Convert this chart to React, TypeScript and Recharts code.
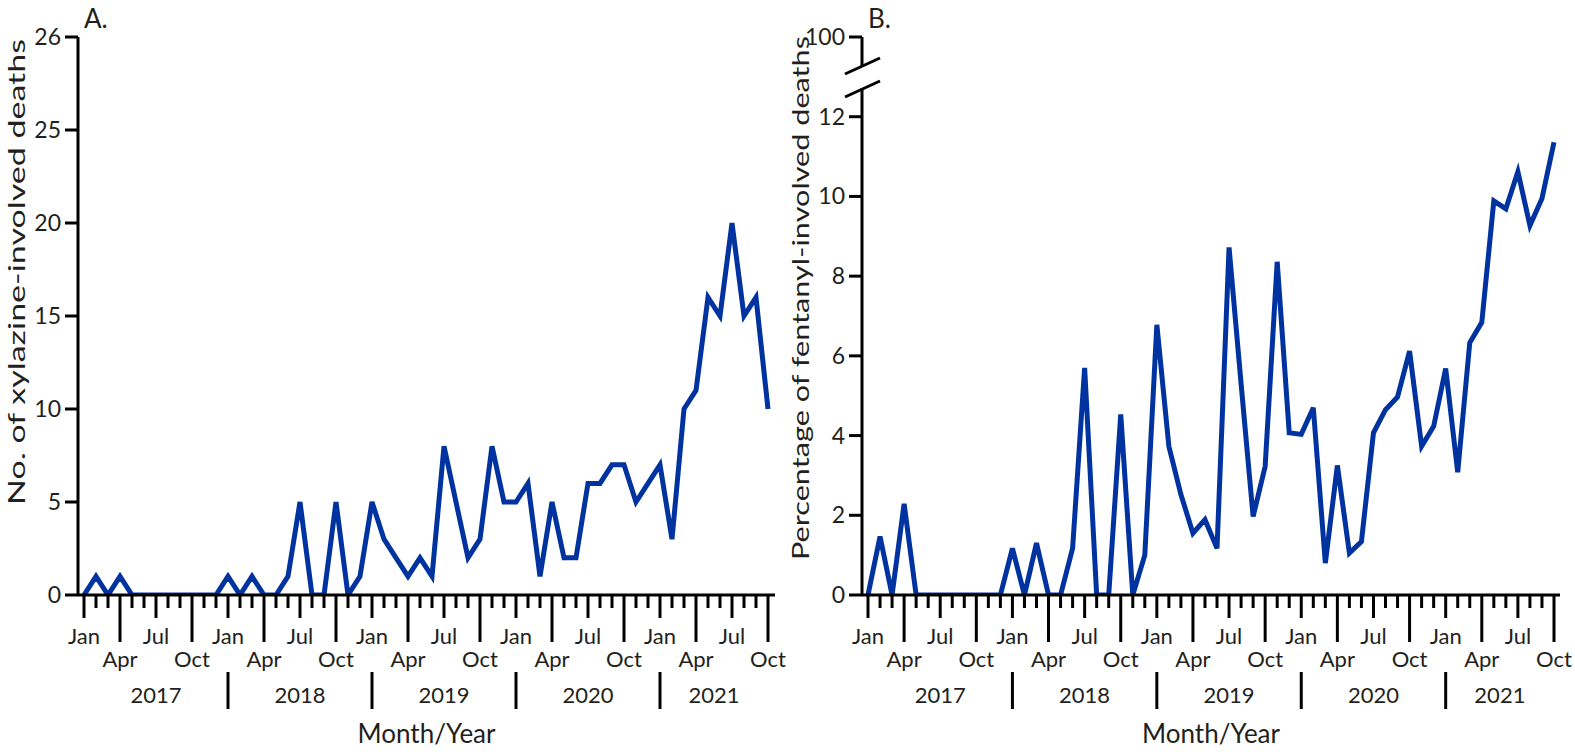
import { LineChart, Line, XAxis, YAxis, Label } from 'recharts';

const monthNames = ['Jan', 'Feb', 'Mar', 'Apr', 'May', 'Jun', 'Jul', 'Aug', 'Sep', 'Oct', 'Nov', 'Dec'];
const years = ['2017', '2018', '2019', '2020', '2021'];

// A. monthly count of xylazine-involved deaths, Jan 2017 - Oct 2021
const xylazineDeaths = [
  0, 1, 0, 1, 0, 0, 0, 0, 0, 0, 0, 0,
  1, 0, 1, 0, 0, 1, 5, 0, 0, 5, 0, 1,
  5, 3, 2, 1, 2, 1, 8, 5, 2, 3, 8, 5,
  5, 6, 1, 5, 2, 2, 6, 6, 7, 7, 5, 6,
  7, 3, 10, 11, 16, 15, 20, 15, 16, 10,
];

// B. percentage of fentanyl-involved deaths that involved xylazine
const fentanylPct = [
  0, 1.47, 0, 2.29, 0, 0, 0, 0, 0, 0, 0, 0,
  1.17, 0, 1.3, 0, 0, 1.17, 5.7, 0, 0, 4.53, 0, 1.0,
  6.78, 3.73, 2.52, 1.55, 1.89, 1.17, 8.72, 5.3, 1.97, 3.23, 8.36, 4.07,
  4.03, 4.7, 0.8, 3.25, 1.05, 1.34, 4.07, 4.65, 4.97, 6.12, 3.73, 4.23,
  5.68, 3.08, 6.33, 6.84, 9.89, 9.69, 10.62, 9.27, 9.95, 11.36,
];

const countTicks = [0, 5, 10, 15, 20, 25, 30];
const countTickLabels = ['0', '5', '10', '15', '20', '25', '26'];
const pctTicks = [0, 2, 4, 6, 8, 10, 12, 14];
const pctTickLabels = ['0', '2', '4', '6', '8', '10', '12', '100'];

const months = years.flatMap((y) => monthNames.map((m) => `${m} ${y}`)).slice(0, xylazineDeaths.length);
const data = months.map((month, i) => ({ month, count: xylazineDeaths[i], pct: fentanylPct[i] }));

const FONT = 'Lato, "Liberation Sans", sans-serif';
const INK = '#231f20';
const BLUE = '#0033a0';

function MonthTick(props: any) {
  const { x, y, index } = props;
  const m = index % 12;
  const yr = Math.floor(index / 12);
  const len = m === 3 || m === 9 ? 47 : m === 0 || m === 6 ? 23 : 13;
  const txt = { fontFamily: FONT, fontSize: 22, fill: INK, textAnchor: 'middle' as const };
  return (
    <g>
      <line x1={x} x2={x} y1={y} y2={y + len} stroke="#000" strokeWidth={3} />
      {(m === 0 || m === 6) && <text x={x} y={y + 49} {...txt}>{monthNames[m]}</text>}
      {(m === 3 || m === 9) && <text x={x} y={y + 72} {...txt}>{monthNames[m]}</text>}
      {m === 0 && index > 0 && (
        <line x1={x} x2={x} y1={y + 77} y2={y + 114} stroke="#000" strokeWidth={3} />
      )}
      {m === 6 && (
        <text x={x + (yr === years.length - 1 ? -18 : 0)} y={y + 108} {...txt}>{years[yr]}</text>
      )}
    </g>
  );
}

function ValueTick(props: any) {
  const { x, y, index, labels } = props;
  return (
    <text x={x} y={y + 8} textAnchor="end" fontFamily={FONT} fontSize={23} fill={INK}>
      {labels[index]}
    </text>
  );
}

function xTitle(props: any) {
  const vb = props.viewBox;
  return (
    <text x={vb.x + vb.width / 2} y={vb.y + vb.height - 2} textAnchor="middle" fontFamily={FONT} fontSize={26} fill={INK}>
      Month/Year
    </text>
  );
}

function makeYTitle(title: string, panel: string, dx: number, cy: number, len: number, brk: boolean) {
  return function YTitle(props: any) {
    const vb = props.viewBox;
    const ax = vb.x + vb.width;
    return (
      <g>
        <text
          transform={`translate(${vb.x + dx},${cy}) rotate(-90)`}
          textAnchor="middle"
          fontFamily={FONT}
          fontSize={24}
          fill={INK}
          textLength={len}
          lengthAdjust="spacingAndGlyphs"
        >
          {title}
        </text>
        <text x={ax + 6} y={28} fontFamily={FONT} fontSize={26} fill={INK}>{panel}</text>
        {brk && (
          <g>
            <rect x={ax - 3} y={66} width={6} height={22} fill="#fff" />
            <line x1={ax - 17} y1={74} x2={ax + 18} y2={58} stroke="#000" strokeWidth={3} />
            <line x1={ax - 17} y1={97} x2={ax + 18} y2={81} stroke="#000" strokeWidth={3} />
          </g>
        )}
      </g>
    );
  };
}

function Panel(props: {
  width: number;
  axisWidth: number;
  dataKey: string;
  domainMax: number;
  ticks: number[];
  tickLabels: string[];
  title: string;
  panel: string;
  titleX: number;
  titleY: number;
  titleLen: number;
  brk: boolean;
  padRight: number;
}) {
  return (
    <LineChart
      width={props.width}
      height={756}
      data={data}
      margin={{ top: 37, right: 15, bottom: 11, left: 0 }}
    >
      <XAxis
        dataKey="month"
        interval={0}
        height={150}
        padding={{ left: 6, right: props.padRight }}
        axisLine={{ stroke: '#000', strokeWidth: 3 }}
        tickLine={false}
        tickSize={0}
        tickMargin={0}
        tick={<MonthTick />}
        label={<Label content={xTitle} />}
      />
      <XAxis xAxisId="top" dataKey="month" orientation="top" height={0} tick={false} tickLine={false}
        axisLine={{ stroke: '#000', strokeWidth: 3 }} />
      <YAxis
        width={props.axisWidth}
        domain={[0, props.domainMax]}
        ticks={props.ticks}
        interval={0}
        allowDataOverflow
        axisLine={{ stroke: '#000', strokeWidth: 3 }}
        tickLine={{ stroke: '#000', strokeWidth: 3 }}
        tickSize={13}
        tickMargin={4}
        tick={<ValueTick labels={props.tickLabels} />}
        label={<Label content={makeYTitle(props.title, props.panel, props.titleX, props.titleY, props.titleLen, props.brk)} />}
      />
      <YAxis yAxisId="right" orientation="right" width={0} domain={[0, props.domainMax]} tick={false}
        tickLine={false} axisLine={{ stroke: '#000', strokeWidth: 3 }} />
      <Line
        type="linear"
        dataKey={props.dataKey}
        stroke={BLUE}
        strokeWidth={5}
        dot={false}
        isAnimationActive={false}
      />
    </LineChart>
  );
}

export default function App() {
  return (
    <div style={{ position: 'absolute', left: 0, top: 0, width: 1575, height: 756, background: '#fff' }}>
      <div style={{ position: 'absolute', left: 0, top: 0 }}>
        <Panel width={790} axisWidth={78} dataKey="count" domainMax={30} ticks={countTicks}
          tickLabels={countTickLabels} title="No. of xylazine-involved deaths" panel="A."
          titleX={25} titleY={272} titleLen={466} brk={false} padRight={7} />
      </div>
      <div style={{ position: 'absolute', left: 780, top: 0 }}>
        <Panel width={795} axisWidth={82} dataKey="pct" domainMax={14} ticks={pctTicks}
          tickLabels={pctTickLabels} title="Percentage of fentanyl-involved deaths" panel="B."
          titleX={29} titleY={298} titleLen={524} brk={true} padRight={6} />
      </div>
    </div>
  );
}
